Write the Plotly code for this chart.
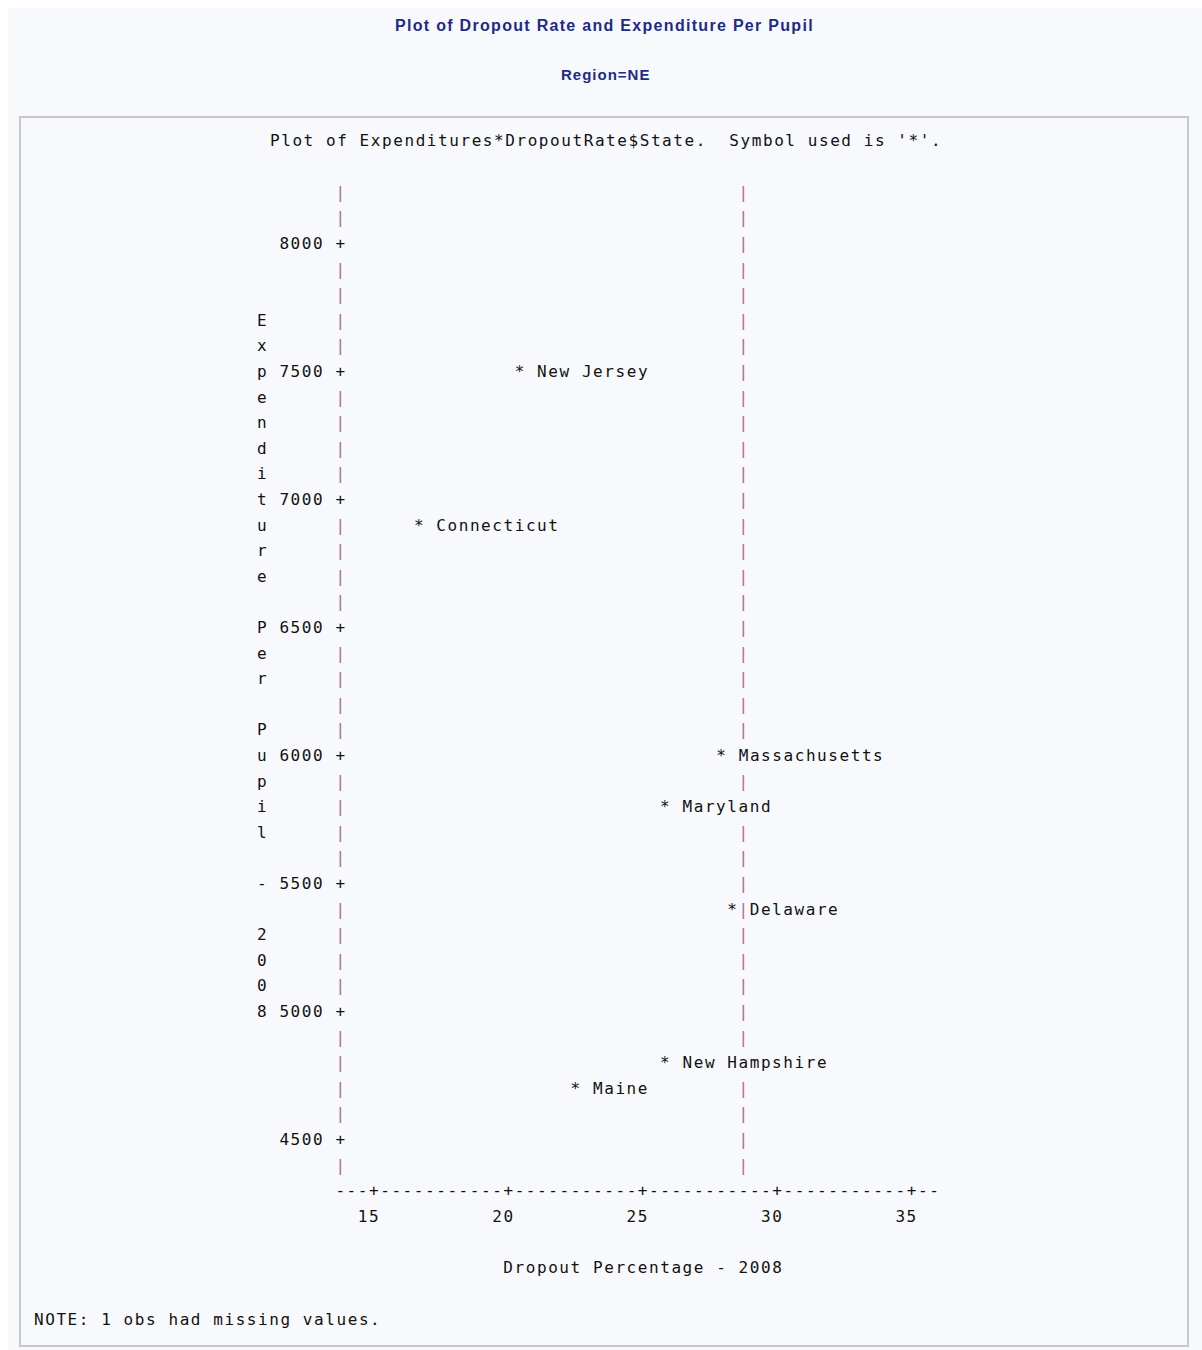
import plotly.graph_objects as go

# ---- data: Northeast region, 2008 ----
states = ["New Jersey", "Connecticut", "Massachusetts", "Maryland",
          "Delaware", "New Hampshire", "Maine"]
dropout_pct = [20.42, 16.67, 27.92, 25.83, 28.33, 25.83, 22.50]
expenditure = [7500, 6900, 6000, 5800, 5400, 4800, 4700]

x_ticks = [15, 20, 25, 30, 35]
y_ticks = [4500, 5000, 5500, 6000, 6500, 7000, 7500, 8000]
href_value = 28.75

main_title = "Plot of Dropout Rate and Expenditure Per Pupil"
by_title = "Region=NE"
plot_header = "Plot of Expenditures*DropoutRate&#36;State.  Symbol used is '*'."
x_label = "Dropout Percentage - 2008"
y_label = "Expenditure Per Pupil - 2008"
note_text = "NOTE: 1 obs had missing values."

# ---- line-printer grid ----
COLS_PER_TICK = 12
COL = (x_ticks[1] - x_ticks[0]) / COLS_PER_TICK     # x units per character column
ROW = 100                                             # y units per printed line
col0 = x_ticks[0] - 3 * COL                           # column holding the vertical axis


def col_x(k):
    return col0 + k * COL


def col_of(x):
    return int(round((x - col0) / COL))


rows = list(range(y_ticks[-1] + 2 * ROW, y_ticks[0] - ROW - 1, -ROW))
axis_row = rows[-1] - ROW
tick_label_row = axis_row - ROW
x_title_row = axis_row - 3 * ROW

# page geometry (pixels): the plotting area spans the whole output box
W_PAGE, H_PAGE = 1202, 1350
L, T, PW, PH = 20, 117, 1168, 1229
CHAR_W, LINE_H = 11.2, 25.6
COL0_PX, ROW8000_PX = 341, 245

x_lo = col0 - (COL0_PX - L) / CHAR_W * COL
x_hi = x_lo + PW / CHAR_W * COL
y_hi = y_ticks[-1] + (ROW8000_PX - T) / LINE_H * ROW
y_lo = y_hi - PH / LINE_H * ROW

MONO = "DejaVu Sans Mono"
FS = 16
LS = CHAR_W - 0.602 * FS
INK = "#111111"
BAR = "#b06a8e"
NAVY = "#1f2a86"
BG = "#f8f9fc"


def mono(s):
    return f'<span style="letter-spacing:{LS:.2f}px">{s}</span>'


def spaced(s, ls):
    return f'<span style="letter-spacing:{ls}px">{s}</span>'


def px_x(px):
    return (px - L) / PW


def px_y(py):
    return 1 - (py - T) / PH


def text_trace(x, y, text, pos, color=INK):
    return go.Scatter(x=x, y=y, mode="text", text=[mono(t) for t in text],
                      textposition=pos, cliponaxis=False, hoverinfo="skip",
                      textfont=dict(family=MONO, size=FS, color=color),
                      showlegend=False)


fig = go.Figure()

# vertical axis: '+' at ticks, '|' elsewhere
bar_rows = [r for r in rows if r not in y_ticks]
fig.add_trace(text_trace([col_x(0)] * len(bar_rows), bar_rows, ["|"] * len(bar_rows),
                         "middle center", BAR))
fig.add_trace(text_trace([col_x(0)] * len(y_ticks), y_ticks, ["+"] * len(y_ticks),
                         "middle center"))

# reference line, hidden where a point label is printed over it
href_col = col_of(href_value)
covered = set()
for s, x, y in zip(states, dropout_pct, expenditure):
    k = col_of(x)
    if k + 2 <= href_col <= k + 1 + len(s):
        covered.add(y)
ref_rows = [r for r in rows if r not in covered]
fig.add_trace(text_trace([href_value] * len(ref_rows), ref_rows, ["|"] * len(ref_rows),
                         "middle center", BAR))

# y tick labels
fig.add_trace(text_trace([col_x(-2) + COL / 2] * len(y_ticks), y_ticks,
                         [str(v) for v in y_ticks], "middle left"))

# horizontal axis line
n_cols = col_of(x_ticks[-1]) + 3
tick_cols = {col_of(v) for v in x_ticks}
axis_str = "".join("+" if k in tick_cols else "-" for k in range(n_cols))
fig.add_trace(text_trace([col_x(0) - COL / 2], [axis_row], [axis_str], "middle right"))

# x tick labels
fig.add_trace(text_trace([v + COL / 2 for v in x_ticks], [tick_label_row] * len(x_ticks),
                         [str(v) for v in x_ticks], "middle left"))

# axis titles
fig.add_trace(text_trace([(x_ticks[0] + x_ticks[-1]) / 2], [x_title_row], [x_label],
                         "middle center"))
y_label_rows = [y_ticks[-1] - 3 * ROW - i * ROW for i in range(len(y_label))]
fig.add_trace(text_trace([col_x(-7)] * len(y_label), y_label_rows, list(y_label),
                         "middle center"))

# points ('*') and their labels, printed two columns to the right of the symbol
fig.add_trace(text_trace(dropout_pct, expenditure, ["*"] * len(states), "middle center"))
fig.add_trace(text_trace([x + 1.5 * COL for x in dropout_pct], expenditure,
                         states, "middle right"))

fig.update_layout(
    width=W_PAGE, height=H_PAGE, autosize=False,
    margin=dict(l=L, r=W_PAGE - L - PW, t=T, b=H_PAGE - T - PH, pad=0),
    paper_bgcolor="white", plot_bgcolor="rgba(0,0,0,0)",
    xaxis=dict(range=[x_lo, x_hi], visible=False, fixedrange=True),
    yaxis=dict(range=[y_lo, y_hi], visible=False, fixedrange=True),
    shapes=[
        dict(type="rect", xref="paper", yref="paper", layer="below",
             x0=px_x(8), x1=px_x(W_PAGE), y0=px_y(H_PAGE), y1=px_y(8),
             fillcolor=BG, line=dict(width=0)),
        dict(type="rect", xref="paper", yref="paper", layer="below",
             x0=px_x(20), x1=px_x(1188), y0=px_y(1346), y1=px_y(117),
             fillcolor=BG, line=dict(color="#c8c8c8", width=2)),
    ],
    annotations=[
        dict(text=f"<b>{spaced(main_title, 1.3)}</b>", xref="paper", yref="paper",
             x=px_x(604), y=px_y(26), xanchor="center", yanchor="middle",
             showarrow=False, font=dict(family="Liberation Sans", size=16, color=NAVY)),
        dict(text=f"<b>{spaced(by_title, 1.0)}</b>", xref="paper", yref="paper",
             x=px_x(605), y=px_y(74), xanchor="center", yanchor="middle",
             showarrow=False, font=dict(family="Liberation Sans", size=15, color=NAVY)),
        dict(text=mono(plot_header), xref="paper", yref="paper",
             x=px_x(268), y=px_y(140), xanchor="left", yanchor="middle",
             showarrow=False, font=dict(family=MONO, size=FS, color=INK)),
        dict(text=mono(note_text), xref="paper", yref="paper",
             x=px_x(32), y=px_y(1319), xanchor="left", yanchor="middle",
             showarrow=False, font=dict(family=MONO, size=FS, color=INK)),
    ],
)

fig.write_html("out.html")
